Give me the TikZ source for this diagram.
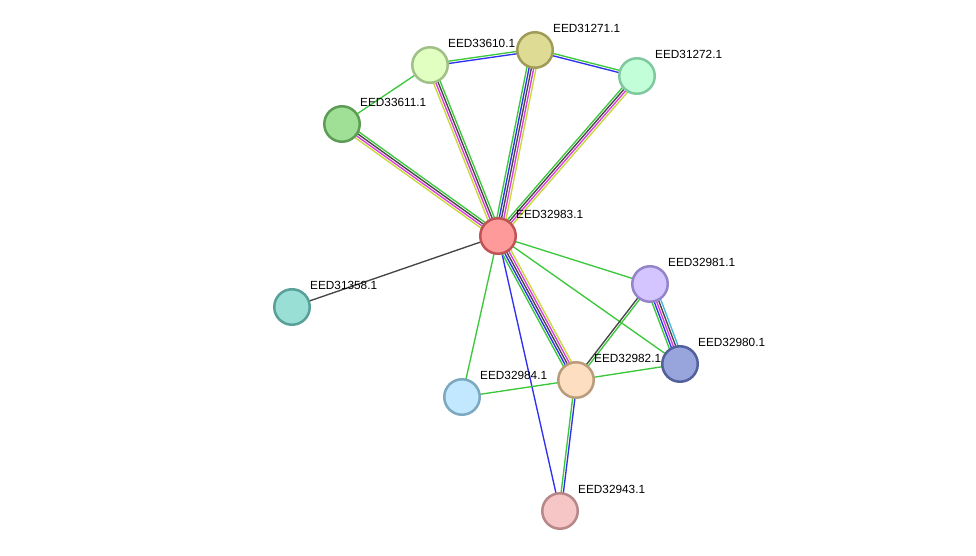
\documentclass[tikz,border=0pt]{standalone}
\usepackage{fontspec}
\setmainfont{Liberation Sans}
\usetikzlibrary{calc,backgrounds}
\definecolor{egreen}{HTML}{3CC83C}
\definecolor{eblue}{HTML}{3030F0}
\definecolor{eblack}{HTML}{464646}
\definecolor{emag}{HTML}{DD3CDD}
\definecolor{eyel}{HTML}{C6D83A}
\definecolor{ecyan}{HTML}{40B8E0}
\tikzset{
	prot/.style={circle,minimum size=35.5pt,inner sep=0pt,line width=2.5pt},
	lbl/.style={anchor=west,inner sep=0pt,font=\fontsize{11.8}{13}\selectfont},
	strand/.style={line width=1.35pt},
}
% parallel coloured lines between two proteins
\newcommand\multiedge[3]{%
	\foreach \col [count=\i] in {#3} {\xdef\nlines{\i}}%
	\foreach \col [count=\i] in {#3} {%
		\pgfmathsetmacro\off{(\i-(\nlines+1)/2)*2.3}%
		\draw[strand,\col] ($(#1)!\off pt!90:(#2)$) -- ($(#2)!\off pt!-90:(#1)$);
	}%
}
\begin{document}
\begin{tikzpicture}[x=1pt,y=-1pt]
	\useasboundingbox (0,0) rectangle (976,556);
	\foreach \nm/\x/\y/\fc/\dc in {
		32983/498/236/FF9A9A/C05454,
		33610/430/65/E0FFC0/A0C088,
		31271/535/50/DEDC94/A09C58,
		31272/637/76/C2FFD8/80C8A0,
		33611/342/124/A0E096/5C9C54,
		31358/292/307/9ADFD6/58A098,
		32981/650/284/D4C4FF/9484C8,
		32980/680/364/98A4DC/52609C,
		32982/576/380/FEDEC0/B89C7C,
		32984/462/397/C2E8FF/7CA8C0,
		32943/560/511/F6C6C6/B88888}
	{
		\definecolor{nfill}{HTML}{\fc}\definecolor{ndraw}{HTML}{\dc}
		\node[prot,fill=nfill,draw=ndraw] (n\nm) at (\x,\y) {};
		\node[lbl] (l\nm) at ($(\x,\y)+(18,-22)$) {EED\nm.1};
	}
	\begin{scope}[on background layer]
		\multiedge{n33610}{n32983}{eyel,emag,eblack,egreen}
		\multiedge{n31271}{n32983}{egreen,eblue,eblack,emag,eyel}
		\multiedge{n31272}{n32983}{egreen,eblack,emag,eyel}
		\multiedge{n33611}{n32983}{eyel,emag,eblack,egreen}
		\multiedge{n33610}{n31271}{eblue,egreen}
		\multiedge{n31271}{n31272}{eblue,egreen}
		\multiedge{n33610}{n33611}{egreen}
		\multiedge{n32983}{n31358}{eblack}
		\multiedge{n32983}{n32981}{egreen}
		\multiedge{n32983}{n32980}{egreen}
		\multiedge{n32983}{n32984}{egreen}
		\multiedge{n32983}{n32943}{eblue}
		\multiedge{n32983}{n32982}{egreen,eblue,eblack,emag,eyel}
		\multiedge{n32981}{n32982}{eblack,egreen}
		\multiedge{n32981}{n32980}{egreen,eblue,emag,eblack,ecyan}
		\multiedge{n32982}{n32980}{egreen}
		\multiedge{n32982}{n32984}{egreen}
		\multiedge{n32982}{n32943}{egreen,eblue}
	\end{scope}
\end{tikzpicture}
\end{document}
